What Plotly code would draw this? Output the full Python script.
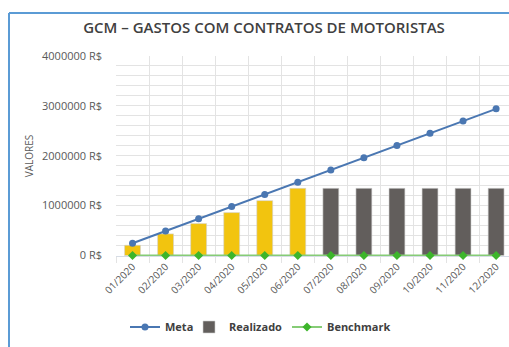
import plotly.graph_objects as go

meses = ["01/2020", "02/2020", "03/2020", "04/2020", "05/2020", "06/2020",
         "07/2020", "08/2020", "09/2020", "10/2020", "11/2020", "12/2020"]
meta = [245000, 490000, 735000, 980000, 1225000, 1470000,
        1715000, 1960000, 2205000, 2450000, 2695000, 2940000]
realizado = [205000, 433000, 640000, 860000, 1100000, 1346000,
             1346000, 1346000, 1346000, 1346000, 1346000, 1346000]
benchmark = [0, 0, 0, 0, 0, 0, 0, 0, 0, 0, 0, 0]
# months already closed are drawn in yellow, the projected ones in grey
fechados = 6

cor_fechado = "#F2C40F"
cor_projetado = "#625E5C"
cores_barras = [cor_fechado if i < fechados else cor_projetado for i in range(len(meses))]

fonte = "Open Sans, Liberation Sans, sans-serif"
cinza = "#595959"
grade = "#E3E3E3"

# plot-area geometry in pixels, used to place the frame and legends
PX_L, PX_W, PX_B, PX_H = 116, 393, 256, 200


def px_x(px):
    return (px - PX_L) / PX_W


def px_y(py):
    return (PX_B - py) / PX_H


fig = go.Figure()

fig.add_trace(go.Scatter(
    x=meses, y=meta, name="Meta", mode="lines+markers", legend="legend",
    line=dict(color="#4A77B2", width=2),
    marker=dict(color="#4A77B2", size=7, symbol="circle"),
    cliponaxis=False,
))
# bars are listed last month first so the legend swatch takes the grey colour
fig.add_trace(go.Bar(
    x=meses[::-1], y=realizado[::-1], name="Realizado", width=0.48, legend="legend2",
    marker=dict(color=cores_barras[::-1], line=dict(color="#D0D0D0", width=0.6)),
))
fig.add_trace(go.Scatter(
    x=meses, y=benchmark, name="Benchmark", mode="lines+markers", legend="legend3",
    line=dict(color="#86CC76", width=2),
    marker=dict(color="#3DB52B", size=7, symbol="diamond"),
    cliponaxis=False,
))

legenda = dict(
    orientation="h", xanchor="left", yanchor="middle", y=px_y(327),
    font=dict(family=fonte, size=11, color="#404040", weight=700),
    itemwidth=30, bgcolor="rgba(0,0,0,0)",
)

fig.update_layout(
    width=509, height=347,
    margin=dict(l=PX_L, r=509 - PX_L - PX_W, t=56, b=347 - PX_B),
    paper_bgcolor="white", plot_bgcolor="white",
    font=dict(family=fonte, size=10, color=cinza),
    title=dict(
        text="GCM – GASTOS COM CONTRATOS DE MOTORISTAS",
        x=264 / 509, xanchor="center", y=1 - 28 / 347, yanchor="middle",
        font=dict(family=fonte, size=15, color="#404040", weight=600),
    ),
    showlegend=True,
    legend=dict(legenda, x=px_x(125)),
    legend2=dict(legenda, x=px_x(189)),
    legend3=dict(legenda, x=px_x(287)),
    barmode="overlay",
    xaxis=dict(
        type="category", categoryorder="array", categoryarray=meses,
        range=[-0.5, 11.39],
        tickson="boundaries", ticks="outside", ticklen=6, tickcolor=grade,
        showgrid=True, gridcolor=grade, gridwidth=1,
        showline=True, linecolor="#D6DCE5", linewidth=1, layer="below traces",
        tickangle=-45, tickfont=dict(size=10, color=cinza),
    ),
    yaxis=dict(
        range=[-10000, 4000000], dtick=1000000, tick0=0,
        ticksuffix=" R$", tickformat="d",
        showgrid=True, gridcolor=grade, gridwidth=1,
        zeroline=False, layer="below traces",
        minor=dict(dtick=200000, showgrid=True, gridcolor=grade, gridwidth=1),
        title=dict(text="VALORES", font=dict(size=10, color=cinza), standoff=6),
        tickfont=dict(size=11, color=cinza),
        ticklabelstandoff=13,
    ),
    shapes=[
        # frame around the chart card (left and top edges)
        dict(type="line", xref="paper", yref="paper",
             x0=px_x(9), x1=px_x(9), y0=px_y(13), y1=px_y(360),
             line=dict(color="#5B9BD5", width=2), layer="above"),
        dict(type="line", xref="paper", yref="paper",
             x0=px_x(9), x1=px_x(520), y0=px_y(13), y1=px_y(13),
             line=dict(color="#5B9BD5", width=2), layer="above"),
    ],
)

fig.write_html("out.html")
